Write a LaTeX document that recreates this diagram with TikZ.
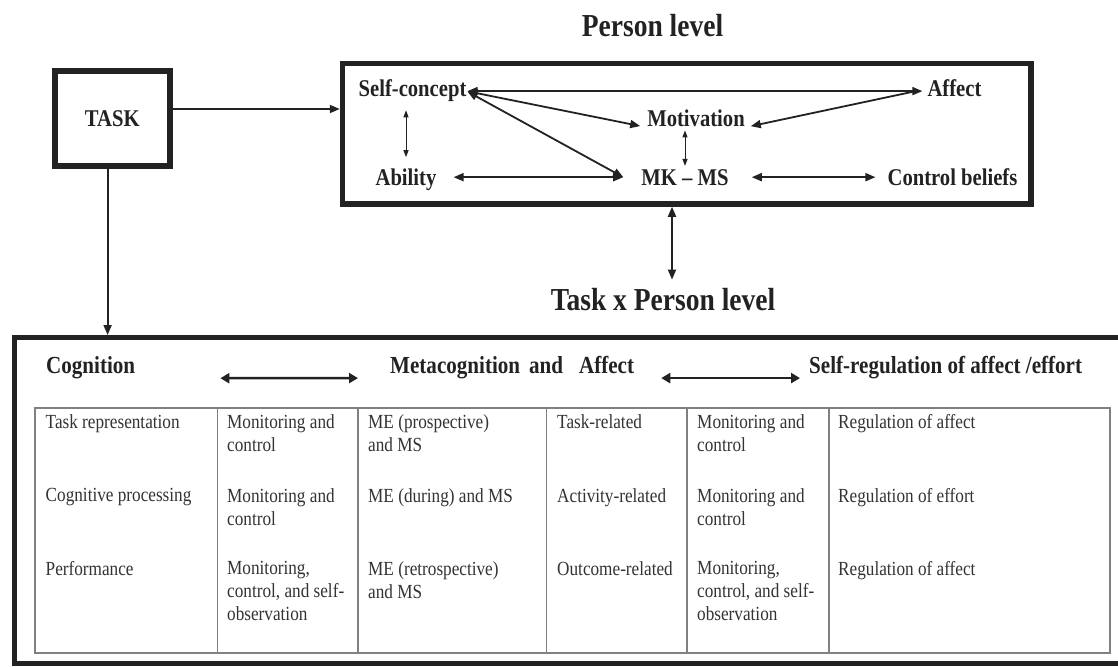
\documentclass[tikz,border=0pt]{standalone}
\usepackage{fontspec}
\setmainfont{Liberation Serif}[FakeStretch=0.86]
\usetikzlibrary{arrows.meta}
\definecolor{ink}{HTML}{222222}
\definecolor{cellink}{HTML}{333333}
\definecolor{rulegray}{HTML}{808080}
\begin{document}
\begin{tikzpicture}[x=1pt,y=-1pt,
  box/.style={draw=ink, inner sep=0pt, outer sep=auto},
  title/.style={font=\fontsize{32}{36}\selectfont\bfseries, text=ink, inner sep=0pt, anchor=base},
  lbl/.style={font=\fontsize{24}{28}\selectfont\bfseries, text=ink, inner sep=0pt, anchor=base},
  hdr/.style={font=\fontsize{24.5}{28}\selectfont\bfseries, text=ink, inner sep=0pt, anchor=base west},
  cell/.style={font=\fontsize{20}{23}\selectfont, text=cellink, inner sep=0pt, anchor=north west, align=left},
  grid/.style={draw=rulegray, line width=1.4pt},
  arrow/.style={draw=ink, line width=1.8pt, -{Triangle[length=10pt,width=8pt]}},
  darr/.style={draw=ink, line width=1.8pt, {Triangle[length=10pt,width=8pt]}-{Triangle[length=10pt,width=8pt]}},
  thindarr/.style={draw=ink, line width=1pt, {Triangle[length=7pt,width=5pt]}-{Triangle[length=7pt,width=5pt]}},
  hdrarr/.style={draw=ink, line width=2.4pt, {Triangle[length=9pt,width=10pt]}-{Triangle[length=9pt,width=10pt]}}
]
\useasboundingbox (0,0) rectangle (1118,666);
\clip (0,0) rectangle (1118,666);
\fill[white] (0,0) rectangle (1118,666);

% ---- task and person level ----
\node[box, line width=6pt, minimum width=114.6pt, minimum height=95pt,
      font=\fontsize{24}{28}\selectfont\bfseries, text=ink] (task) at (112.3,118.8) {TASK};

\node[title] (pl) at (652.5,37) {Person level};
\node[box, line width=5.5pt, minimum width=688.5pt, minimum height=140.6pt] (pb) at (686.75,133.7) {};

\node[lbl] (sc)  at (412.5,97)  {Self-concept};
\node[lbl] (af)  at (954.5,97)  {Affect};
\node[lbl] (mot) at (696,127)   {Motivation};
\node[lbl] (ab)  at (406,185)   {Ability};
\node[lbl] (mk)  at (685,185)   {MK – MS};
\node[lbl] (cb)  at (952.5,185) {Control beliefs};

\node[title] (tpl) at (663,310) {Task x Person level};

% ---- task x person level frame ----
\node[box, line width=5pt, minimum width=1111.5pt, minimum height=326pt] (bb) at (570.25,500.5) {};

\node[hdr] (cog)  at (46,373)  {Cognition};
\node[hdr] (meta) at (390,373) {Metacognition\hspace{9pt}and\hspace{16pt}Affect};
\node[hdr] (sr)   at (809,373) {Self-regulation of affect /effort};

% table grid
\draw[grid] (35,408) rectangle (1110,653);
\foreach \cx in {217.5,358,546.5,687,829}
  \draw[grid] (\cx,408) -- (\cx,653);

% table cells
\node[cell] (r1c1) at (45.5,414.3) {Task representation};
\node[cell] (r1c2) at (227,414.3)  {Monitoring and\\control};
\node[cell] (r1c3) at (368,414.3)  {ME (prospective)\\and MS};
\node[cell] (r1c4) at (557,414.3)  {Task-related};
\node[cell] (r1c5) at (697,414.3)  {Monitoring and\\control};
\node[cell] (r1c6) at (838,414.3)  {Regulation of affect};

\node[cell] (r2c1) at (45.5,488.3) {Cognitive processing};
\node[cell] (r2c2) at (227,488.3)  {Monitoring and\\control};
\node[cell] (r2c3) at (368,488.3)  {ME (during) and MS};
\node[cell] (r2c4) at (557,488.3)  {Activity-related};
\node[cell] (r2c5) at (697,488.3)  {Monitoring and\\control};
\node[cell] (r2c6) at (838,488.3)  {Regulation of effort};

\node[cell] (r3c1) at (45.5,561.3) {Performance};
\node[cell] (r3c2) at (227,561.3)  {Monitoring,\\control, and self-\\observation};
\node[cell] (r3c3) at (368,561.3)  {ME (retrospective)\\and MS};
\node[cell] (r3c4) at (557,561.3)  {Outcome-related};
\node[cell] (r3c5) at (697,561.3)  {Monitoring,\\control, and self-\\observation};
\node[cell] (r3c6) at (838,561.3)  {Regulation of affect};

% ---- connectors ----
\coordinate (taskout) at ([yshift=9.8pt]task.east);
\draw[arrow] (taskout) -- (taskout -| pb.west);
\coordinate (taskdown) at ([xshift=-4.7pt]task.south);
\draw[arrow] (taskdown) -- (taskdown |- bb.north);

\draw[darr, shorten <=1pt, shorten >=5pt] (sc.east) -- (sc.east -| af.west);
\draw[darr, shorten <=1pt, shorten >=7pt] (sc.east) -- (mot.south west);
\draw[darr, shorten <=1pt] (sc.east) -- ([xshift=-18pt]mk.west);
\draw[arrow, shorten <=10pt, shorten >=6pt] (af.west) -- (mot.south east);
\draw[darr, shorten <=17pt, shorten >=18pt] (ab.east |- mk.west) -- (mk.west);
\draw[darr, shorten <=23pt, shorten >=12pt] (mk.east) -- (mk.east -| cb.west);
\draw[thindarr, shorten <=8pt, shorten >=11pt] (sc.south -| ab.north) -- (ab.north);
\draw[thindarr, shorten <=3pt, shorten >=3pt] (mot.south -| mk.north) -- (mk.north);

\coordinate (tplin) at ([xshift=9pt]tpl.north);
\draw[darr, shorten >=8pt] (tplin |- pb.south) -- (tplin);

\draw[hdrarr] ([shift={(85pt,-11pt)}]cog.east) -- ([shift={(-32pt,-11pt)}]meta.west);
\draw[hdrarr] ([shift={(27pt,-11pt)}]meta.east) -- ([shift={(-9pt,-11pt)}]sr.west);
\end{tikzpicture}
\end{document}
